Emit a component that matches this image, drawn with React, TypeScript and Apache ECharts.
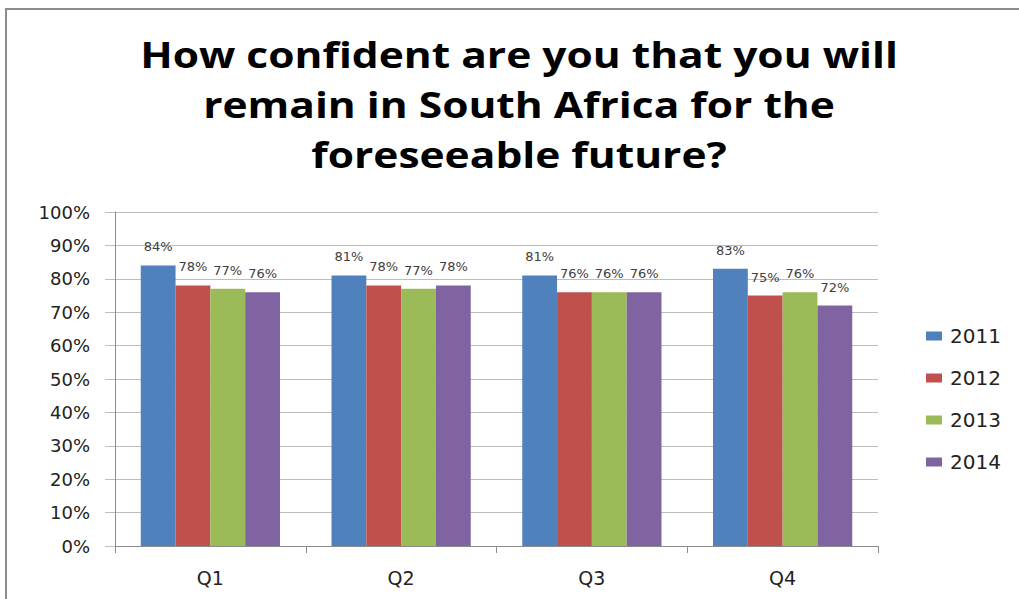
import React, { useEffect, useRef } from "react";
import * as echarts from "echarts";

const categories = ["Q1", "Q2", "Q3", "Q4"];
const seriesNames = ["2011", "2012", "2013", "2014"];
const values2011 = [84, 81, 81, 83];
const values2012 = [78, 78, 76, 75];
const values2013 = [77, 77, 76, 76];
const values2014 = [76, 78, 76, 72];
const colors = ["#4F81BD", "#C0504D", "#9BBB59", "#8064A2"];
const titleText = "How confident are you that you will\nremain in South Africa for the\nforeseeable future?";

export default function App() {
  const ref = useRef<HTMLDivElement>(null);
  useEffect(() => {
    if (!ref.current) return;
    const chart = echarts.init(ref.current, null, { renderer: "svg" });
    const allValues = [values2011, values2012, values2013, values2014];
    const titleFont = "'Open Sans', 'Liberation Sans', sans-serif";
    const font = "'DejaVu Sans', 'Liberation Sans', sans-serif";
    chart.setOption({
      animation: false,
      backgroundColor: "#ffffff",
      color: colors,
      graphic: [
        {
          type: "rect",
          shape: { x: 6, y: 9, width: 1100, height: 700 },
          style: { fill: "none", stroke: "#8c8c8c", lineWidth: 2 },
          silent: true,
        },
        {
          type: "text",
          x: 519,
          y: 29,
          scaleX: 1.25,
          scaleY: 1.04,
          style: {
            text: titleText,
            fontFamily: titleFont,
            fontWeight: "bold",
            fontSize: 34,
            lineHeight: 48,
            fill: "#000000",
            textAlign: "center",
            textVerticalAlign: "top",
          },
        },
      ],
      legend: {
        orient: "vertical",
        left: 921,
        top: 319,
        itemWidth: 16,
        itemHeight: 9,
        itemGap: 18,
        icon: "rect",
        textStyle: { fontFamily: font, fontSize: 20, color: "#222", padding: [0, 0, 0, 3], lineHeight: 24 },
        data: seriesNames,
      },
      grid: { left: 115, right: 141, top: 212, bottom: 53, containLabel: false },
      xAxis: {
        type: "category",
        data: categories,
        axisLine: { show: true, lineStyle: { color: "#8c8c8c", width: 1 } },
        axisTick: { show: true, length: 7, lineStyle: { color: "#8c8c8c" } },
        axisLabel: { fontFamily: font, fontSize: 19, color: "#222", margin: 22 },
      },
      yAxis: {
        type: "value",
        min: 0,
        max: 100,
        interval: 10,
        axisLine: { show: true, lineStyle: { color: "#8c8c8c", width: 1 } },
        axisTick: { show: true, length: 10, inside: false, lineStyle: { color: "#bdbdbd" } },
        splitLine: { show: true, lineStyle: { color: "#bdbdbd", width: 1 } },
        axisLabel: { fontFamily: font, fontSize: 18, color: "#222", margin: 25, formatter: "{value}%" },
      },
      series: seriesNames.map((name, i) => ({
        name,
        type: "bar",
        data: allValues[i],
        barGap: "0%",
        barCategoryGap: "27%",
        itemStyle: { color: colors[i] },
        label: {
          show: true,
          position: "top",
          distance: 12,
          formatter: "{c}%",
          fontFamily: font,
          fontSize: 13,
          color: "#404040",
        },
      })),
    });
    return () => chart.dispose();
  }, []);
  return (
    <div
      ref={ref}
      style={{ position: "fixed", left: 0, top: 0, width: 1019, height: 599 }}
    />
  );
}
